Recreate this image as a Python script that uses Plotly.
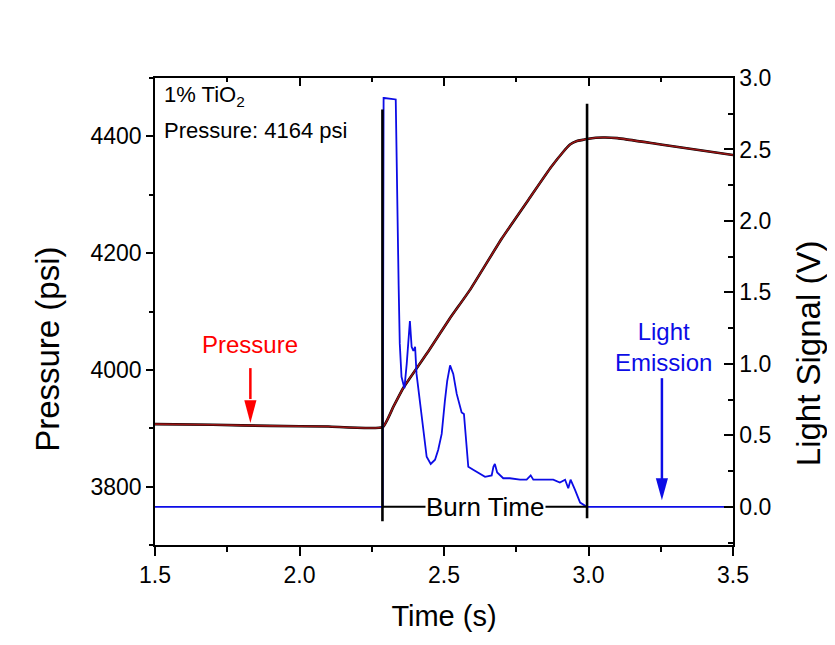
import plotly.graph_objects as go

# ---------------- data ----------------
pressure_t = [1.50, 1.70, 1.90, 2.10, 2.288, 2.325, 2.359, 2.45, 2.52, 2.59, 2.70, 2.80, 2.87,
              2.91, 2.936, 2.96, 2.98, 3.00, 3.05, 3.10, 3.25, 3.50]
pressure_p = [3907, 3906, 3904, 3903, 3902, 3937, 3969, 4035, 4088, 4137, 4225, 4297, 4347,
              4372, 4386, 4392, 4394, 4396, 4398, 4397, 4386, 4368]

light_t = [1.50, 2.288, 2.291, 2.293, 2.333, 2.336, 2.343, 2.347, 2.353, 2.363, 2.371,
           2.382, 2.388, 2.394, 2.400, 2.405, 2.417, 2.429, 2.440, 2.454, 2.469, 2.480,
           2.492, 2.503, 2.511, 2.521, 2.532, 2.544, 2.552, 2.561, 2.569, 2.576, 2.584,
           2.601, 2.619, 2.642, 2.665, 2.671, 2.676, 2.684, 2.705, 2.728, 2.763, 2.786,
           2.800, 2.809, 2.838, 2.878, 2.901, 2.919, 2.930, 2.938, 2.953, 2.971, 2.994, 3.50]
light_v = [0.0, 0.0, 2.86, 2.86, 2.85, 2.40, 1.55, 1.14, 0.91, 0.83, 1.00,
           1.30, 1.12, 1.09, 1.12, 0.93, 0.72, 0.51, 0.35, 0.30, 0.33, 0.40,
           0.51, 0.74, 0.88, 0.99, 0.93, 0.79, 0.72, 0.66, 0.65, 0.49, 0.28,
           0.26, 0.24, 0.21, 0.22, 0.28, 0.30, 0.24, 0.20, 0.20, 0.19, 0.19,
           0.22, 0.19, 0.19, 0.19, 0.17, 0.19, 0.13, 0.19, 0.12, 0.03, 0.0, 0.0]

burn_start = 2.287
burn_end = 2.995

x_ticks = [1.5, 2.0, 2.5, 3.0, 3.5]
p_ticks = [3800, 4000, 4200, 4400]
v_ticks = [0.0, 0.5, 1.0, 1.5, 2.0, 2.5, 3.0]

FONT = "Arial, Liberation Sans, sans-serif"
BLUE = "#0c0ce6"
RED = "#ff0000"

fig = go.Figure()

# pressure (left axis)
fig.add_trace(go.Scatter(x=pressure_t, y=pressure_p, mode="lines",
                         line=dict(color="black", width=2.6, shape="spline", smoothing=0.4),
                         xaxis="x", yaxis="y", showlegend=False, hoverinfo="skip"))
fig.add_trace(go.Scatter(x=pressure_t, y=pressure_p, mode="lines",
                         line=dict(color="#9a1515", width=1.6, shape="spline", smoothing=0.4),
                         xaxis="x", yaxis="y", showlegend=False))
# invisible trace to anchor the top (mirror) axis
fig.add_trace(go.Scatter(x=pressure_t, y=pressure_p, mode="lines",
                         line=dict(color="rgba(0,0,0,0)", width=0), xaxis="x2", yaxis="y",
                         showlegend=False, hoverinfo="skip"))
# light signal (right axis)
fig.add_trace(go.Scatter(x=light_t, y=light_v, mode="lines",
                         line=dict(color=BLUE, width=1.8), xaxis="x", yaxis="y2",
                         showlegend=False))

shapes = []
# burn-time markers
shapes.append(dict(type="line", xref="x", yref="y2", x0=burn_start, x1=burn_start,
                   y0=-0.10, y1=2.78, line=dict(color="black", width=2.6), layer="above"))
shapes.append(dict(type="line", xref="x", yref="y2", x0=burn_end, x1=burn_end,
                   y0=-0.08, y1=2.82, line=dict(color="black", width=2.6), layer="above"))
shapes.append(dict(type="line", xref="x", yref="y2", x0=burn_start, x1=burn_end,
                   y0=0, y1=0, line=dict(color="black", width=2), layer="above"))

# red arrow (Pressure)
pa_x = 1.83
shapes.append(dict(type="line", xref="x", yref="y", x0=pa_x, x1=pa_x, y0=4003, y1=3950,
                   line=dict(color=RED, width=2.5), layer="above"))
shapes.append(dict(type="path", xref="x", yref="y",
                   path=f"M {pa_x-0.021} 3948 L {pa_x+0.021} 3948 L {pa_x} 3909 Z",
                   fillcolor=RED, line=dict(color=RED, width=0), layer="above"))
# blue arrow (Light Emission)
la_x = 3.254
shapes.append(dict(type="line", xref="x", yref="y2", x0=la_x, x1=la_x, y0=0.90, y1=0.19,
                   line=dict(color=BLUE, width=2.5), layer="above"))
shapes.append(dict(type="path", xref="x", yref="y2",
                   path=f"M {la_x-0.021} 0.20 L {la_x+0.021} 0.20 L {la_x} 0.046 Z",
                   fillcolor=BLUE, line=dict(color=BLUE, width=0), layer="above"))

annotations = [
    dict(text="1% TiO<sub>2</sub>", xref="paper", yref="paper", x=0.012, y=0.962,
         xanchor="left", yanchor="middle", showarrow=False,
         font=dict(family=FONT, size=22, color="black")),
    dict(text="Pressure: 4164 psi", xref="paper", yref="paper", x=0.012, y=0.887,
         xanchor="left", yanchor="middle", showarrow=False,
         font=dict(family=FONT, size=22, color="black")),
    dict(text="Pressure", xref="x", yref="y", x=1.829, y=4043, showarrow=False,
         xanchor="center", yanchor="middle", font=dict(family=FONT, size=24, color=RED)),
    dict(text="Light<br>Emission", xref="x", yref="y2", x=3.258, y=1.12, showarrow=False,
         xanchor="center", yanchor="middle", font=dict(family=FONT, size=24, color=BLUE)),
    dict(text="Burn Time", xref="x", yref="y2", x=2.645, y=0, showarrow=False,
         xanchor="center", yanchor="middle", bgcolor="white", borderpad=0,
         font=dict(family=FONT, size=26, color="black")),
    dict(text="Pressure (psi)", xref="paper", yref="paper", x=-0.185, y=0.418,
         textangle=-90, showarrow=False, xanchor="center", yanchor="middle",
         font=dict(family=FONT, size=33, color="black")),
    dict(text="Light Signal (V)", xref="paper", yref="paper", x=1.130, y=0.411,
         textangle=-90, showarrow=False, xanchor="center", yanchor="middle",
         font=dict(family=FONT, size=33, color="black")),
]

tickfont = dict(family=FONT, size=23, color="black")

# the page body adds an 8px offset, so margins are shifted to keep the
# plot area at the reference position inside the 835x645 window
fig.update_layout(
    width=835, height=645,
    margin=dict(l=147, r=110, t=70, b=108),
    paper_bgcolor="white", plot_bgcolor="white",
    shapes=shapes, annotations=annotations,
    showlegend=False,
    xaxis=dict(range=[1.5, 3.5], tickvals=x_ticks, tickformat=".1f",
               ticks="outside", ticklen=9, tickwidth=1.5, tickcolor="black",
               showline=True, linecolor="black", linewidth=1.5, showgrid=False,
               zeroline=False, tickfont=tickfont,
               minor=dict(dtick=0.25, tick0=1.5, ticks="outside", ticklen=5,
                          tickwidth=1.5, tickcolor="black", showgrid=False),
               title=dict(text="Time (s)", font=dict(family=FONT, size=29, color="black"),
                          standoff=18)),
    xaxis2=dict(range=[1.5, 3.5], overlaying="x", side="top", tickvals=x_ticks,
                ticks="inside", ticklen=8, tickwidth=1.5, tickcolor="black",
                showticklabels=False, showline=True, linecolor="black", linewidth=1.5,
                showgrid=False, zeroline=False,
                minor=dict(dtick=0.25, tick0=1.5, ticks="inside", ticklen=4,
                           tickwidth=1.5, tickcolor="black", showgrid=False)),
    yaxis=dict(range=[3700, 4500], tickvals=p_ticks, ticks="outside", ticklen=7,
               tickwidth=1.5, tickcolor="black", showline=True, linecolor="black",
               linewidth=1.5, showgrid=False, zeroline=False, tickfont=tickfont,
               minor=dict(dtick=100, tick0=3700, ticks="outside", ticklen=4,
                          tickwidth=1.5, tickcolor="black", showgrid=False)),
    yaxis2=dict(range=[-0.267, 3.0], overlaying="y", side="right", tickvals=v_ticks,
                tickformat=".1f", ticks="inside", ticklen=9, tickwidth=1.5,
                tickcolor="black", showline=True, linecolor="black", linewidth=1.5,
                showgrid=False, zeroline=False, tickfont=tickfont,
                minor=dict(dtick=0.25, tick0=0, ticks="inside", ticklen=5,
                           tickwidth=1.5, tickcolor="black", showgrid=False)),
)

fig.write_html("out.html")
